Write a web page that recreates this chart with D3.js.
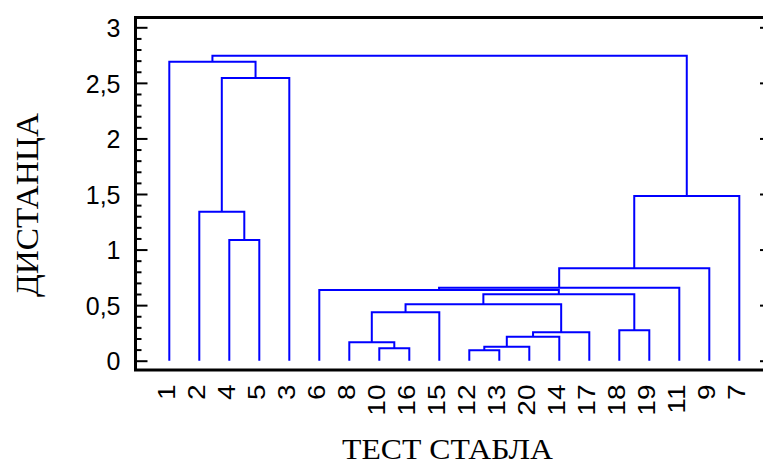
<!DOCTYPE html>
<html>
<head>
<meta charset="utf-8">
<script src="https://cdn.jsdelivr.net/npm/d3@7"></script>
<style>
  body { margin: 0; background: #fff; }
</style>
</head>
<body>
<div id="chart"></div>
<script>
// leaf order along the x axis
const leaves = ["1", "2", "4", "5", "3", "6", "8", "10", "16", "15",
                "12", "13", "20", "14", "17", "18", "19", "11", "9", "7"];

// linkage: merge i joins mergeLeft[i] and mergeRight[i] at mergeHeight[i]
// (a "cN" name refers to the cluster made by merge N)
const mergeLeft   = ["12", "10", "c0", "8", "c2", "c4", "18", "c3", "c7", "c8",
                     "6", "c10", "c11", "4", "2", "c12", "c14", "1", "c17"];
const mergeRight  = ["13", "16", "20", "c1", "14", "17", "19", "15", "c5", "c6",
                     "c9", "11", "9", "5", "c13", "7", "3", "c16", "c15"];
const mergeHeight = [0.094, 0.112, 0.126, 0.166, 0.216, 0.256, 0.274, 0.436, 0.508, 0.598,
                     0.636, 0.657, 0.831, 1.086, 1.34, 1.482, 2.544, 2.69, 2.745];

const majorTicks = [0, 0.5, 1, 1.5, 2, 2.5, 3];
const minorTicks = d3.range(0, 31).map(d => d / 10).filter(d => Math.round(d * 10) % 5 !== 0);

const width = 763;
const height = 462;
const frame = { left: 135.5, top: 17.5, right: 772, bottom: 370 };

const svg = d3.select("#chart")
    .append("svg")
    .attr("width", width)
    .attr("height", height)
    .style("display", "block");

const x = d3.scalePoint()
    .domain(leaves)
    .range([169.3, 739.3]);

const y = d3.scaleLinear()
    .domain([0, 3])
    .range([360.7, 27.3]);

// work out node positions
const nodes = {};
leaves.forEach(l => { nodes[l] = { x: x(l), h: 0 }; });

let links = "";
mergeLeft.forEach((a, i) => {
    const A = nodes[a];
    const B = nodes[mergeRight[i]];
    const h = mergeHeight[i];
    links += `M${A.x},${y(A.h)}V${y(h)}H${B.x}V${y(B.h)}`;
    nodes["c" + i] = { x: (A.x + B.x) / 2, h: h };
});

svg.append("path")
    .attr("d", links)
    .attr("fill", "none")
    .attr("stroke", "#0000ff")
    .attr("stroke-width", 2);

// frame
svg.append("rect")
    .attr("x", frame.left)
    .attr("y", frame.top)
    .attr("width", frame.right - frame.left)
    .attr("height", frame.bottom - frame.top)
    .attr("fill", "none")
    .attr("stroke", "#000")
    .attr("stroke-width", 3);

const fmt = d => String(d).replace(".", ",");

// tick labels on the left
const yLabels = svg.append("g")
    .attr("transform", `translate(${frame.left},0)`)
    .call(d3.axisLeft(y).tickValues(majorTicks).tickSize(0).tickPadding(15).tickFormat(fmt));
yLabels.select(".domain").remove();
yLabels.selectAll("text")
    .attr("dy", "0.37em")
    .attr("font-family", "'Liberation Sans', Arial, sans-serif")
    .attr("font-size", 25)
    .attr("fill", "#000");

// inward ticks
function inwardTicks(axis, xPos, values, size) {
    const g = svg.append("g")
        .attr("transform", `translate(${xPos},0)`)
        .call(axis(y).tickValues(values).tickSize(size).tickFormat(""));
    g.select(".domain").remove();
    g.selectAll("line").attr("stroke", "#000").attr("stroke-width", 2);
}
inwardTicks(d3.axisRight, frame.left, majorTicks, 12);
inwardTicks(d3.axisRight, frame.left, minorTicks, 6);
inwardTicks(d3.axisLeft, frame.right, majorTicks, 12);

// leaf labels, rotated and a bit stretched along the text
svg.append("g")
    .selectAll("text")
    .data(leaves)
    .join("text")
    .attr("transform", d => `translate(${x(d)},384.5) rotate(-90) scale(1.17,1)`)
    .attr("text-anchor", "end")
    .attr("dy", "0.25em")
    .attr("font-family", "'Liberation Sans', Arial, sans-serif")
    .attr("font-size", 24)
    .attr("fill", "#000")
    .text(d => d);

// axis titles
svg.append("text")
    .attr("x", 447.5)
    .attr("y", 459)
    .attr("text-anchor", "middle")
    .attr("font-family", "'Liberation Serif', 'Times New Roman', serif")
    .attr("font-size", 30)
    .attr("textLength", 211)
    .attr("lengthAdjust", "spacingAndGlyphs")
    .attr("fill", "#000")
    .text("ТЕСТ СТАБЛА");

svg.append("text")
    .attr("transform", "translate(37.5,205) rotate(-90)")
    .attr("text-anchor", "middle")
    .attr("font-family", "'Liberation Serif', 'Times New Roman', serif")
    .attr("font-size", 31)
    .attr("textLength", 184)
    .attr("lengthAdjust", "spacingAndGlyphs")
    .attr("fill", "#000")
    .text("ДИСТАНЦА");
</script>
</body>
</html>
